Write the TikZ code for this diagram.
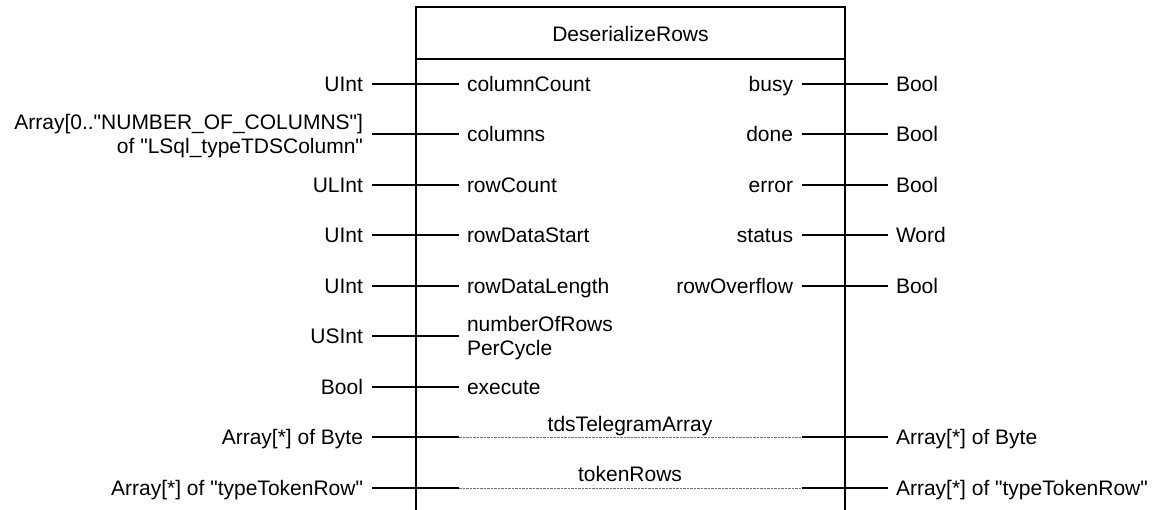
\documentclass[tikz,border=0pt]{standalone}
\usepackage{fontspec}
% Arial-metric sans; a plain family keeps straight quotes (no TeX ligatures)
\newfontfamily\pinfont{Liberation Sans}
\begin{document}
\begin{tikzpicture}[x=1pt,y=-1pt,
  lbl/.style={font=\pinfont\fontsize{21pt}{24pt}\selectfont, inner sep=0pt,
              outer ysep=0pt, text height=15pt, text depth=0pt},
  typeL/.style={lbl, anchor=east, outer xsep=9pt},
  pinL/.style={lbl, anchor=west, outer xsep=8pt},
  pinR/.style={lbl, anchor=east, outer xsep=9pt},
  typeR/.style={lbl, anchor=west, outer xsep=8pt},
  wire/.style={line width=2pt},
  thru/.style={line width=0.9pt, black!55, dash pattern=on 2.5pt off 1pt},
  frame/.style={line width=2pt, line join=miter}]
\useasboundingbox (0,0) rectangle (1160,510);

% block frame, open at the bottom
\draw[frame] (416,510) -- (416,7) -- (845,7) -- (845,510);
\draw[frame] (416,59) -- (845,59);
\node[lbl, anchor=base] (title) at (630.5,42) {DeserializeRows};

% ---- inputs ----
\node[typeL] (tCount) at (372,84) {UInt};
\node[pinL]  (pCount) at (459,84) {columnCount};
\draw[wire] (tCount) -- (pCount);

\node[typeL] (tColsA) at (372,122) {Array[0.."NUMBER\_OF\_COLUMNS"]};
\node[typeL] (tColsB) at (372,146) {of "LSql\_typeTDSColumn"};
\node[pinL]  (pCols)  at (459,134.5) {columns};
\draw[wire] (tColsA.east |- pCols) -- (pCols);

\node[typeL] (tRowCount) at (372,185) {ULInt};
\node[pinL]  (pRowCount) at (459,185) {rowCount};
\draw[wire] (tRowCount) -- (pRowCount);

\node[typeL] (tStart) at (372,235.5) {UInt};
\node[pinL]  (pStart) at (459,235.5) {rowDataStart};
\draw[wire] (tStart) -- (pStart);

\node[typeL] (tLength) at (372,286) {UInt};
\node[pinL]  (pLength) at (459,286) {rowDataLength};
\draw[wire] (tLength) -- (pLength);

\node[typeL] (tNum)  at (372,336.5) {USInt};
\node[pinL]  (pNumA) at (459,324) {numberOfRows};
\node[pinL]  (pNumB) at (459,348) {PerCycle};
\draw[wire] (tNum) -- (tNum -| pNumA.west);

\node[typeL] (tExec) at (372,387) {Bool};
\node[pinL]  (pExec) at (459,387) {execute};
\draw[wire] (tExec) -- (pExec);

% ---- outputs ----
\node[pinR]  (pBusy) at (802,84) {busy};
\node[typeR] (oBusy) at (888,84) {Bool};
\draw[wire] (pBusy) -- (oBusy);

\node[pinR]  (pDone) at (802,134.5) {done};
\node[typeR] (oDone) at (888,134.5) {Bool};
\draw[wire] (pDone) -- (oDone);

\node[pinR]  (pError) at (802,185) {error};
\node[typeR] (oError) at (888,185) {Bool};
\draw[wire] (pError) -- (oError);

\node[pinR]  (pStatus) at (802,235.5) {status};
\node[typeR] (oStatus) at (888,235.5) {Word};
\draw[wire] (pStatus) -- (oStatus);

\node[pinR]  (pOver) at (802,286) {rowOverflow};
\node[typeR] (oOver) at (888,286) {Bool};
\draw[wire] (pOver) -- (oOver);

% ---- in/out parameters ----
\node[typeL] (tTds) at (372,437.5) {Array[*] of Byte};
\node[typeR] (oTds) at (888,437.5) {Array[*] of Byte};
\node[lbl, anchor=base] (pTds) at (630,432) {tdsTelegramArray};
\coordinate (tdsA) at (459,437.5);
\coordinate (tdsB) at (802,437.5);
\draw[wire] (tTds) -- (tdsA);
\draw[thru] (tdsA) -- (tdsB);
\draw[wire] (tdsB) -- (oTds);

\node[typeL] (tTok) at (372,488) {Array[*] of "typeTokenRow"};
\node[typeR] (oTok) at (888,488) {Array[*] of "typeTokenRow"};
\node[lbl, anchor=base] (pTok) at (630,482) {tokenRows};
\coordinate (tokA) at (459,488);
\coordinate (tokB) at (802,488);
\draw[wire] (tTok) -- (tokA);
\draw[thru] (tokA) -- (tokB);
\draw[wire] (tokB) -- (oTok);
\end{tikzpicture}
\end{document}
